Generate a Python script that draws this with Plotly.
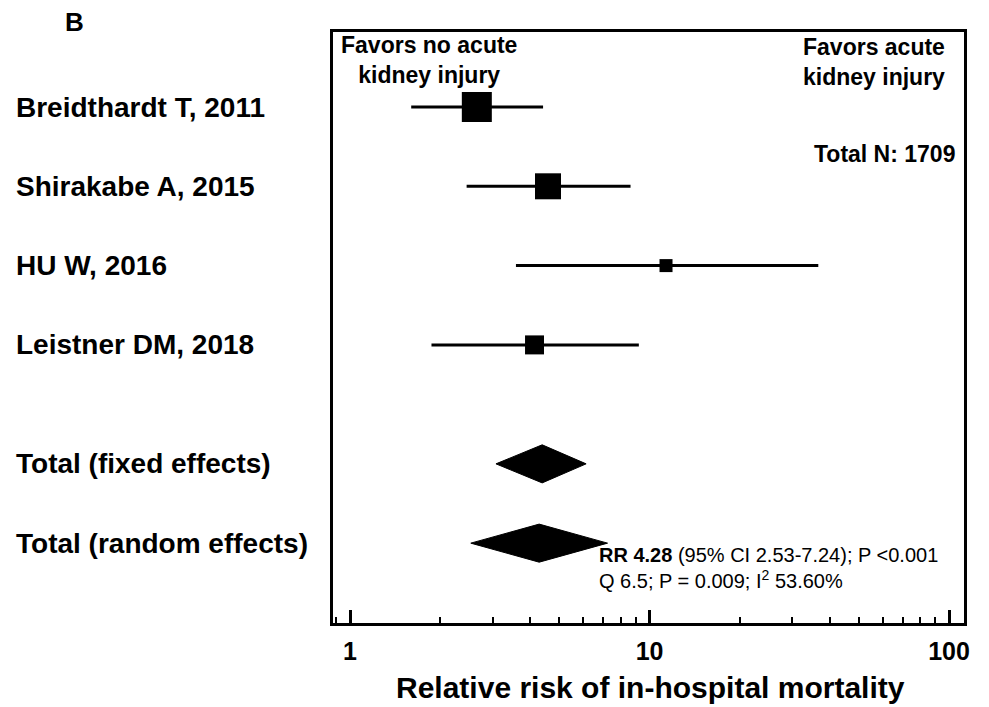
import plotly.graph_objects as go

# ---- data ----
studies = ["Breidthardt T, 2011", "Shirakabe A, 2015", "HU W, 2016", "Leistner DM, 2018"]
study_rr = [2.65, 4.58, 11.35, 4.13]
study_lo = [1.60, 2.45, 3.58, 1.87]
study_hi = [4.41, 8.64, 36.6, 9.21]

pooled_labels = ["Total (fixed effects)", "Total (random effects)"]
pooled_rr = [4.38, 4.28]
pooled_lo = [3.07, 2.53]
pooled_hi = [6.14, 7.24]

tick_vals = [1, 10, 100]
tick_text = ["1", "10", "100"]
x_title = "Relative risk of in-hospital mortality"

total_n = 1709
q_stat = "6.5"
q_p = "0.009"
i2 = "53.60%"

# ---- layout helpers ----
W, H = 989, 707
ML, MR, MT, MB = 333, 25, 32, 84
BOLD = "Liberation Sans"

study_rows = list(range(len(studies)))
pooled_rows = [len(studies) + 0.5 + k for k in range(len(pooled_labels))]

fig = go.Figure()

# study squares with CI lines
fig.add_trace(go.Scatter(
    x=study_rr, y=study_rows, mode="markers", opacity=1,
    marker=dict(symbol="square", size=[30, 26, 13, 19], color="#000000", opacity=1,
                line=dict(width=0)),
    error_x=dict(type="data", symmetric=False,
                 array=[h - r for h, r in zip(study_hi, study_rr)],
                 arrayminus=[r - l for r, l in zip(study_rr, study_lo)],
                 color="black", thickness=3, width=0),
    showlegend=False, hoverinfo="skip"))

# pooled diamonds
half_h = 0.24
for rr, lo, hi, row in zip(pooled_rr, pooled_lo, pooled_hi, pooled_rows):
    fig.add_trace(go.Scatter(
        x=[lo, rr, hi, rr, lo], y=[row, row - half_h, row, row + half_h, row],
        mode="lines", fill="toself", fillcolor="black",
        line=dict(color="black", width=1), showlegend=False, hoverinfo="skip"))

pw = W - ML - MR
ph = H - MT - MB

ann = []
label_x = (14 - ML) / pw
for name, row in zip(studies + pooled_labels, study_rows + pooled_rows):
    ann.append(dict(x=label_x, xref="paper", y=row, yref="y", text="<b>%s</b>" % name,
                    xanchor="left", yanchor="middle", showarrow=False,
                    font=dict(family=BOLD, size=28, color="black")))

ann.append(dict(x=(74 - ML) / pw, xref="paper", y=1 + (MT - 22) / ph, yref="paper",
                text="<b>B</b>", showarrow=False, xanchor="center", yanchor="middle",
                font=dict(family=BOLD, size=26, color="black")))
ann.append(dict(x=(429 - ML) / pw, xref="paper", y=1 - (60 - MT) / ph, yref="paper",
                text="<b>Favors no acute<br>kidney injury</b>", showarrow=False,
                xanchor="center", yanchor="middle", align="center",
                font=dict(family=BOLD, size=23, color="black")))
ann.append(dict(x=(874 - ML) / pw, xref="paper", y=1 - (62 - MT) / ph, yref="paper",
                text="<b>Favors acute<br>kidney injury</b>", showarrow=False,
                xanchor="center", yanchor="middle", align="center",
                font=dict(family=BOLD, size=23, color="black")))
ann.append(dict(x=(957 - ML) / pw, xref="paper", y=1 - (154 - MT) / ph, yref="paper",
                text="<b>Total N: %d</b>" % total_n, showarrow=False,
                xanchor="right", yanchor="middle",
                font=dict(family=BOLD, size=23, color="black")))
stats = ("<b>RR %.2f</b> (95%% CI %.2f-%.2f); P &lt;0.001<br>Q %s; P = %s; I<sup>2</sup> %s"
         % (pooled_rr[1], pooled_lo[1], pooled_hi[1], q_stat, q_p, i2))
ann.append(dict(x=(597 - ML) / pw, xref="paper", y=1 - (568 - MT) / ph, yref="paper",
                text=stats, showarrow=False, xanchor="left", yanchor="middle", align="left",
                font=dict(family=BOLD, size=20, color="black")))
# x-axis title
ann.append(dict(x=(650 - ML) / pw, xref="paper", y=-(687 - (H - MB)) / ph, yref="paper",
                text="<b>%s</b>" % x_title, showarrow=False,
                xanchor="center", yanchor="middle",
                font=dict(family=BOLD, size=30, color="black")))

row_px = 79.3
y_top = -(107 - MT) / row_px
y_bot = (623 - 107) / row_px

fig.update_layout(
    width=W, height=H, margin=dict(l=ML, r=MR, t=MT, b=MB, pad=0, autoexpand=False),
    plot_bgcolor="white", paper_bgcolor="white",
    annotations=ann,
    xaxis=dict(type="log", range=[-0.057, 2.05], showgrid=False, zeroline=False,
               automargin=False,
               showline=True, mirror=True, linecolor="black", linewidth=3,
               tickmode="array", tickvals=tick_vals,
               ticktext=["<b>%s</b>" % t for t in tick_text],
               ticks="inside", ticklen=13, tickwidth=2.5, tickcolor="black",
               ticklabelstandoff=4,
               tickfont=dict(family=BOLD, size=25, color="black"),
               minor=dict(ticks="inside", ticklen=6, tickwidth=2, tickcolor="black",
                          dtick="D1", showgrid=False)),
    yaxis=dict(range=[y_bot, y_top], showgrid=False, zeroline=False, showticklabels=False,
               automargin=False,
               ticks="", showline=True, mirror=True, linecolor="black", linewidth=3),
)

fig.write_html("out.html", config={"displayModeBar": False},
               post_script="document.body.style.margin='0';document.body.style.padding='0';")
